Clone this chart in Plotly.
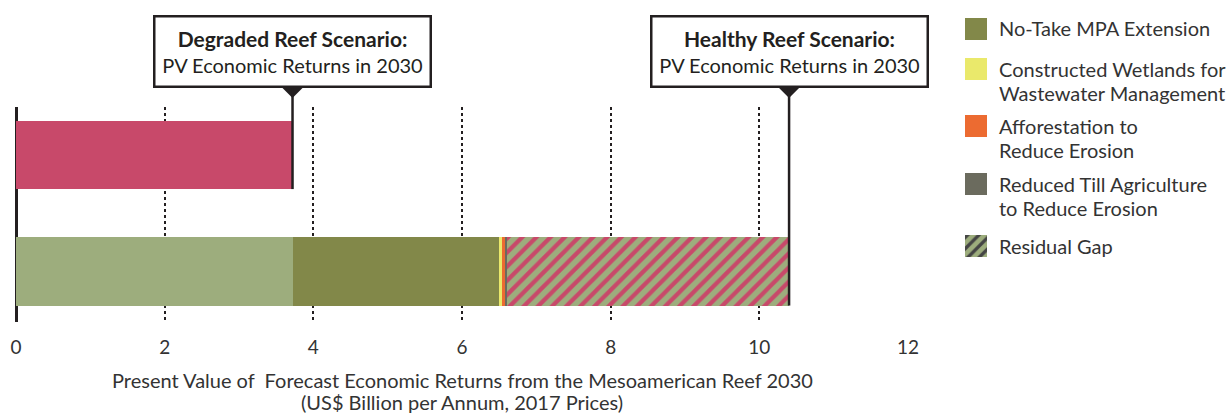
import plotly.graph_objects as go

# ---------------- data ----------------
scenarios = ["Healthy Reef", "Degraded Reef"]
degraded_value = [3.72]
healthy_base = [3.72]
component_names = [
    "No-Take MPA Extension",
    "Constructed Wetlands for Wastewater Management",
    "Afforestation to Reduce Erosion",
    "Reduced Till Agriculture to Reduce Erosion",
    "Residual Gap",
]
component_values = [2.78, 0.04, 0.04, 0.03, 3.79]
legend_lines = [
    ["No-Take MPA Extension"],
    ["Constructed Wetlands for", "Wastewater Management"],
    ["Afforestation to", "Reduce Erosion"],
    ["Reduced Till Agriculture", "to Reduce Erosion"],
    ["Residual Gap"],
]
x_ticks = [0, 2, 4, 6, 8, 10, 12]
callout_titles = ["Degraded Reef Scenario:", "Healthy Reef Scenario:"]
callout_sub = "PV Economic Returns in 2030"
axis_title = ["Present Value of  Forecast Economic Returns from the Mesoamerican Reef 2030",
              "(US$ Billion per Annum, 2017 Prices)"]

# ---------------- style ----------------
W, H = 1226, 414
FONT = "Lato"
TXT = "#333333"
DARK = "#231f20"
PINK = "#C8496A"
BASE = "#9DAD7D"
comp_colors = ["#828849", "#EAE96B", "#EC6B31", "#6B6B5E", BASE]
BAR_W = 0.585

def px_x(p):
    return p / W

def px_y(p):
    return 1 - p / H

# main plot geometry (pixels)
x_dom = [px_x(16), px_x(908)]
y_dom = [px_y(322), px_y(107)]
y_range = [-(322 - 271.5) / 116.5, 1 + (155 - 107) / 116.5]

def ydata_to_paper(v):
    return y_dom[0] + (v - y_range[0]) / (y_range[1] - y_range[0]) * (y_dom[1] - y_dom[0])

fig = go.Figure()

# degraded bar
fig.add_trace(go.Bar(y=[scenarios[1]], x=degraded_value, orientation="h", width=BAR_W,
                     marker=dict(color=PINK, line=dict(width=0)), showlegend=False))
# healthy stacked
fig.add_trace(go.Bar(y=[scenarios[0]], x=healthy_base, orientation="h", width=BAR_W,
                     marker=dict(color=BASE, line=dict(width=0)), showlegend=False))
for name, val, col in zip(component_names, component_values, comp_colors):
    mk = dict(color=col, line=dict(width=0))
    if name == "Residual Gap":
        mk["pattern"] = dict(shape="/", fgcolor=PINK, bgcolor=BASE, size=10, solidity=0.42,
                             fgopacity=1)
    fig.add_trace(go.Bar(y=[scenarios[0]], x=[val], orientation="h", width=BAR_W,
                         marker=mk, name=name, showlegend=False))

# legend swatches on a helper axis (pixel units)
leg_centers = [28.5, 69, 126, 183.5, 246]
fig.add_trace(go.Bar(
    x=[1] * len(component_names), y=leg_centers, orientation="h", width=22,
    xaxis="x2", yaxis="y2", showlegend=False, hoverinfo="skip",
    marker=dict(color=comp_colors, line=dict(width=0),
                pattern=dict(shape=["", "", "", "", "/"], fgcolor=PINK,
                             bgcolor=comp_colors, size=8, solidity=0.42, fgopacity=1)),
))

annotations = []
shapes = []

# legend text
for c, lines in zip(leg_centers, legend_lines):
    for i, ln in enumerate(lines):
        annotations.append(dict(text=ln, xref="paper", yref="paper", x=px_x(997),
                                y=px_y(c + i * 24), xanchor="left", yanchor="middle",
                                showarrow=False, font=dict(family=FONT, size=20, color=TXT)))

# callouts
degraded_end = degraded_value[0]
healthy_end = healthy_base[0] + sum(component_values)
bar_bottom = {scenarios[1]: ydata_to_paper(1 - BAR_W / 2), scenarios[0]: ydata_to_paper(0 - BAR_W / 2)}
for title, end, scen in zip(callout_titles, [degraded_end, healthy_end], [scenarios[1], scenarios[0]]):
    annotations.append(dict(
        text=f"<b><span style='font-size:21px'>{title}</span></b><br>{callout_sub}",
        xref="x", yref="paper",
        x=end, y=px_y(51), xanchor="center", yanchor="middle", showarrow=False,
        align="center", bgcolor="white", bordercolor=DARK, borderwidth=2.5, borderpad=0,
        width=274, height=68, font=dict(family=FONT, size=20, color=DARK)))
    shapes.append(dict(type="path", xref="x", yref="paper", xsizemode="pixel", ysizemode="pixel",
                       xanchor=end, yanchor=px_y(87), path="M-11,0 L11,0 L0,-11 Z",
                       fillcolor=DARK, line=dict(width=0)))
    shapes.append(dict(type="line", xref="x", yref="paper", x0=end, x1=end,
                       y0=px_y(87), y1=bar_bottom[scen], line=dict(color=DARK, width=2.5)))

# axis title
for i, ln in enumerate(axis_title):
    annotations.append(dict(text=ln, xref="x", yref="paper", x=6, y=px_y(380 + i * 22),
                            xanchor="center", yanchor="middle", showarrow=False,
                            font=dict(family=FONT, size=20, color=TXT)))

fig.update_layout(
    width=W, height=H, autosize=False,
    margin=dict(l=0, r=0, t=0, b=0, autoexpand=False),
    paper_bgcolor="white", plot_bgcolor="white",
    barmode="stack", bargap=0,
    font=dict(family=FONT, color=TXT),
    xaxis=dict(domain=x_dom, range=[0, 12], tickvals=x_ticks, ticktext=[str(t) for t in x_ticks],
               showgrid=True, gridcolor=DARK, gridwidth=2, griddash="dot",
               zeroline=True, zerolinecolor=DARK, zerolinewidth=3,
               showline=False, ticks="", ticklabelstandoff=12, automargin=False,
               tickfont=dict(family=FONT, size=19, color=TXT), fixedrange=True),
    yaxis=dict(domain=y_dom, range=y_range, type="category", automargin=False,
               categoryorder="array", categoryarray=scenarios, fixedrange=True,
               showgrid=False, zeroline=False, showticklabels=False, showline=False, ticks=""),
    xaxis2=dict(domain=[px_x(965), px_x(987)], range=[0, 1], visible=False, anchor="y2",
                fixedrange=True),
    yaxis2=dict(domain=[0, 1], range=[H, 0], visible=False, anchor="x2", fixedrange=True),
    annotations=annotations,
    shapes=shapes,
    showlegend=False,
    hovermode=False,
)

fig.write_html("out.html", config={"displayModeBar": False},
               post_script="document.body.style.margin='0';document.body.style.overflow='hidden';")
